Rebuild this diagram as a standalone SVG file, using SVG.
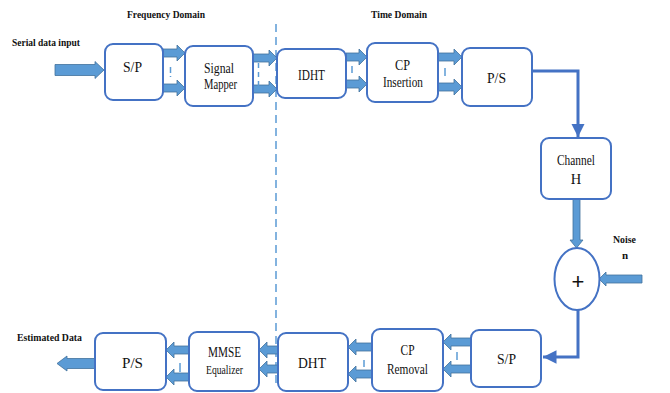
<svg xmlns="http://www.w3.org/2000/svg" width="670" height="393" viewBox="0 0 670 393">
<defs>
<style>
.box{fill:#fff;stroke:#4472C4;stroke-width:2}
.blk{fill:#5B9BD5;stroke:#41719C;stroke-width:0.8}
.ln{fill:none;stroke:#4472C4;stroke-width:3}
.dash{fill:none;stroke:#5B9BD5;stroke-width:1.5}
.t{font-family:"Liberation Serif","Times New Roman",serif;font-size:14.5px;fill:#111;text-anchor:middle}
.b{font-family:"Liberation Serif","Times New Roman",serif;font-size:11px;font-weight:bold;fill:#111}
</style>
<marker id="ah" viewBox="0 0 10 10" refX="10" refY="5" markerWidth="4.5" markerHeight="4.5" markerUnits="strokeWidth" orient="auto">
<path d="M0,0 L10,5 L0,10 z" fill="#4472C4"/>
</marker>
</defs>
<rect width="670" height="393" fill="#fff"/>

<g id="labels">
<text class="b" x="12" y="46" textLength="68" lengthAdjust="spacingAndGlyphs">Serial data input</text>
<text class="b" x="127" y="18" textLength="78" lengthAdjust="spacingAndGlyphs">Frequency Domain</text>
<text class="b" x="371" y="18" textLength="56" lengthAdjust="spacingAndGlyphs">Time Domain</text>
<text class="b" x="17" y="341" textLength="65" lengthAdjust="spacingAndGlyphs">Estimated Data</text>
<text class="b" x="613" y="243" textLength="23" lengthAdjust="spacingAndGlyphs">Noise</text>
<text class="b" x="625" y="259" text-anchor="middle">n</text>
</g>

<g id="connectors">
<line x1="276" y1="24" x2="276" y2="385" stroke="#5B9BD5" stroke-width="1.5" stroke-dasharray="8,5"/>
<path class="blk" d="M55,64.5 H95 V61.5 L104,70 L95,78.5 V75.5 H55 Z"/>
<path class="blk" d="M163,49 H177 V45 L185,53 L177,61 V57 H163 Z"/>
<path class="blk" d="M163,84 H177 V80 L185,88 L177,96 V92 H163 Z"/>
<line class="dash" x1="170.5" y1="67" x2="170.5" y2="77" stroke-dasharray="6,3"/>
<path class="blk" d="M253,54 H269 V50 L277,58 L269,66 V62 H253 Z"/>
<path class="blk" d="M253,85 H269 V81 L277,89 L269,97 V93 H253 Z"/>
<line class="dash" x1="258.5" y1="63" x2="258.5" y2="86" stroke-dasharray="5,4"/>
<path class="blk" d="M346,53 H359 V49 L367,57 L359,65 V61 H346 Z"/>
<path class="blk" d="M346,80 H359 V76 L367,84 L359,92 V88 H346 Z"/>
<line class="dash" x1="352" y1="66" x2="352" y2="73"/>
<path class="blk" d="M438,53 H454 V49 L462,57 L454,65 V61 H438 Z"/>
<path class="blk" d="M438,83 H454 V79 L462,87 L454,95 V91 H438 Z"/>
<line class="dash" x1="445" y1="68" x2="445" y2="76"/>
<polyline class="ln" points="532,71 578,71 578,137" marker-end="url(#ah)"/>
<path class="blk" d="M573,199 H580 V240 H583 L576.5,248 L570,240 H573 Z"/>
<path class="blk" d="M642,275 H606 V272 L599,279 L606,286 V283 H642 Z"/>
<polyline class="ln" points="578,310 578,357 543,357" marker-end="url(#ah)"/>
<path class="blk" d="M471,338 H451 V334 L443,342 L451,350 V346 H471 Z"/>
<path class="blk" d="M471,365 H451 V361 L443,369 L451,377 V373 H471 Z"/>
<line class="dash" x1="457" y1="352" x2="457" y2="360"/>
<path class="blk" d="M372,343 H356 V339 L348,347 L356,355 V351 H372 Z"/>
<path class="blk" d="M372,370 H356 V366 L348,374 L356,382 V378 H372 Z"/>
<line class="dash" x1="364" y1="360" x2="364" y2="367"/>
<path class="blk" d="M278,346 H267 V342 L259,350 L267,358 V354 H278 Z"/>
<path class="blk" d="M278,365 H267 V361 L259,369 L267,377 V373 H278 Z"/>
<path class="blk" d="M189,346 H174 V342 L166,350 L174,358 V354 H189 Z"/>
<path class="blk" d="M189,373 H174 V369 L166,377 L174,385 V381 H189 Z"/>
<line class="dash" x1="180" y1="363" x2="180" y2="372"/>
<path class="blk" d="M95,358.5 H67 V356 L57,363.5 L67,371 V368.5 H95 Z"/>
</g>

<g id="sp1"><rect class="box" x="105" y="44" width="58" height="56" rx="8"/><text class="t" x="132.5" y="72" textLength="19" lengthAdjust="spacingAndGlyphs">S/P</text></g>
<g id="mapper"><rect class="box" x="185" y="46" width="68" height="60" rx="8"/><text class="t" x="219" y="73" textLength="30" lengthAdjust="spacingAndGlyphs">Signal</text><text class="t" x="220.5" y="89" textLength="33" lengthAdjust="spacingAndGlyphs">Mapper</text></g>
<g id="idht"><rect class="box" x="277" y="49" width="69" height="49" rx="8"/><text class="t" x="311.5" y="80" textLength="27" lengthAdjust="spacingAndGlyphs">IDHT</text></g>
<g id="cpins"><rect class="box" x="367" y="43" width="71" height="59" rx="8"/><text class="t" x="402.5" y="70" textLength="15" lengthAdjust="spacingAndGlyphs">CP</text><text class="t" x="403" y="87" textLength="40" lengthAdjust="spacingAndGlyphs">Insertion</text></g>
<g id="ps1"><rect class="box" x="462" y="48" width="70" height="58" rx="8"/><text class="t" x="496.5" y="83" textLength="19" lengthAdjust="spacingAndGlyphs">P/S</text></g>
<g id="channel"><rect class="box" x="541" y="138" width="70" height="61" rx="8"/><text class="t" x="576" y="165" textLength="38" lengthAdjust="spacingAndGlyphs">Channel</text><text class="t" x="576" y="184">H</text></g>
<g id="adder"><ellipse class="box" cx="577" cy="279" rx="22.5" ry="31"/><text class="t" x="578" y="289" style="font-size:22px;font-family:'Liberation Sans',Arial,sans-serif">+</text></g>
<g id="sp2"><rect class="box" x="471" y="330" width="70" height="57" rx="8"/><text class="t" x="506.5" y="364" textLength="19" lengthAdjust="spacingAndGlyphs">S/P</text></g>
<g id="cprem"><rect class="box" x="372" y="329" width="71" height="62" rx="8"/><text class="t" x="407.5" y="355" textLength="14" lengthAdjust="spacingAndGlyphs">CP</text><text class="t" x="407.5" y="374" textLength="41" lengthAdjust="spacingAndGlyphs">Removal</text></g>
<g id="dht"><rect class="box" x="278" y="333" width="70" height="58" rx="8"/><text class="t" x="312" y="368" textLength="28" lengthAdjust="spacingAndGlyphs">DHT</text></g>
<g id="mmse"><rect class="box" x="189" y="332" width="70" height="59" rx="8"/><text class="t" x="224.5" y="357" textLength="33" lengthAdjust="spacingAndGlyphs">MMSE</text><text class="t" x="224.5" y="374" style="font-size:12px" textLength="37" lengthAdjust="spacingAndGlyphs">Equalizer</text></g>
<g id="ps2"><rect class="box" x="95" y="333" width="71" height="57" rx="8"/><text class="t" x="132.5" y="368" textLength="21" lengthAdjust="spacingAndGlyphs">P/S</text></g>
</svg>
